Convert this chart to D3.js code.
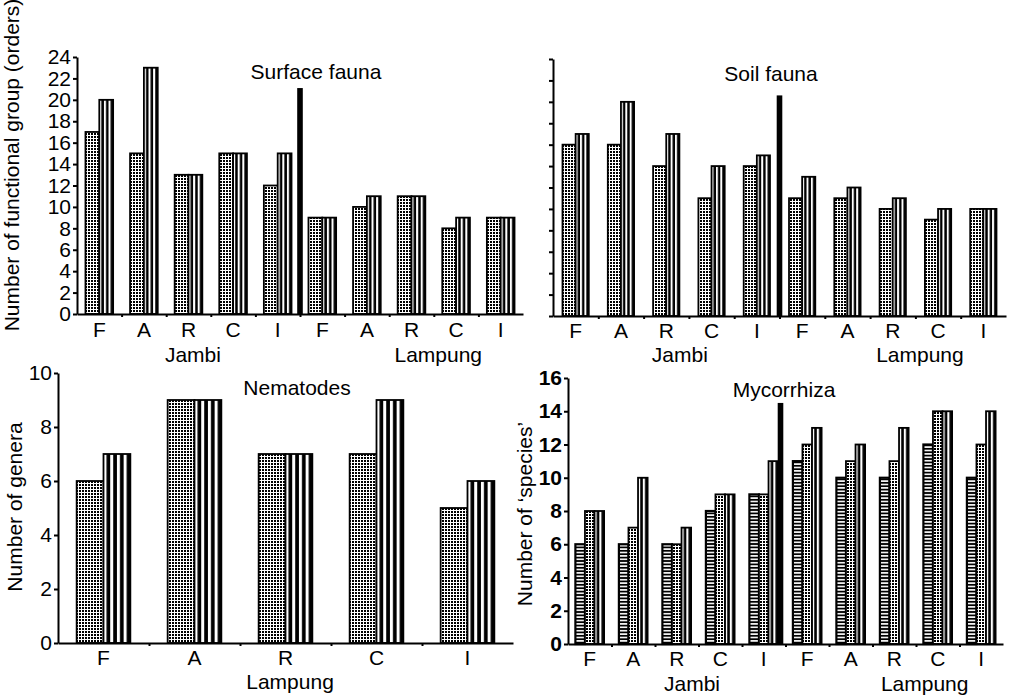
<!DOCTYPE html>
<html>
<head>
<meta charset="utf-8">
<script src="https://cdn.jsdelivr.net/npm/d3@7"></script>
<style>
  body { margin: 0; background: #fff; }
  text { font-family: "Liberation Sans", Arial, Helvetica, sans-serif; fill: #000; }
</style>
</head>
<body>
<script>
// site groups: Jambi F A R C I, Lampung F A R C I
var groups = ["F", "A", "R", "C", "I", "F", "A", "R", "C", "I"];
var nemGroups = ["F", "A", "R", "C", "I"];

var surfaceDotted = [17, 15, 13, 15, 12, 9, 10, 11, 8, 9];
var surfaceStriped = [20, 23, 13, 15, 15, 9, 11, 11, 9, 9];
var surfaceSep = 21.1;

var soilDotted = [16, 16, 14, 11, 14, 11, 11, 10, 9, 10];
var soilStriped = [17, 20, 17, 14, 15, 13, 12, 11, 10, 10];
var soilSep = 20.6;

var nemDotted = [6, 9, 7, 7, 5];
var nemStriped = [7, 9, 7, 9, 6];

var mycHoriz = [6, 6, 6, 8, 9, 11, 10, 10, 12, 10];
var mycDotted = [8, 7, 6, 9, 9, 12, 11, 11, 14, 12];
var mycStriped = [8, 10, 7, 9, 11, 13, 12, 13, 14, 14];
var mycSep = 14.5;

var FS = "21px";

var svg = d3.select("body").append("svg")
    .attr("width", 1010)
    .attr("height", 696);

// fill patterns
var defs = svg.append("defs");

var dots = defs.append("pattern")
    .attr("id", "dots")
    .attr("patternUnits", "userSpaceOnUse")
    .attr("width", 3).attr("height", 3);
dots.append("rect").attr("width", 3).attr("height", 3).attr("fill", "#fff");
dots.append("rect").attr("x", 1).attr("y", 1)
    .attr("width", 2).attr("height", 2).attr("fill", "#000");

var hstripes = defs.append("pattern")
    .attr("id", "hstripes")
    .attr("patternUnits", "userSpaceOnUse")
    .attr("width", 10).attr("height", 3.4);
hstripes.append("rect").attr("width", 10).attr("height", 3.4).attr("fill", "#000");
hstripes.append("rect").attr("y", 0.9).attr("width", 10).attr("height", 1.6).attr("fill", "#fff");

[2, 3, 4].forEach(function(n) {
    var p = defs.append("pattern")
        .attr("id", "vstripes" + n)
        .attr("patternUnits", "objectBoundingBox")
        .attr("patternContentUnits", "objectBoundingBox")
        .attr("width", 1 / n).attr("height", 1);
    p.append("rect").attr("width", 1 / n).attr("height", 1).attr("fill", "#fff");
    p.append("rect").attr("x", 0.45 / n).attr("width", 0.55 / n).attr("height", 1).attr("fill", "#000");
});

function panel(o) {
    var g = svg.append("g");
    var x = d3.scaleBand().domain(d3.range(o.cats.length)).range(o.xr);
    var y = d3.scaleLinear().domain([0, o.ymax]).range(o.yr);
    var bw = x.bandwidth(), gw = bw * o.fill;
    var inner = d3.scaleBand().domain(d3.range(o.series.length))
        .range([(bw - gw) / 2, (bw + gw) / 2]);

    // bars
    o.series.forEach(function(s, si) {
        g.selectAll(null)
            .data(s.values)
            .enter().append("rect")
            .attr("x", function(d, i) { return x(i) + inner(si); })
            .attr("y", function(d) { return y(d); })
            .attr("width", inner.bandwidth())
            .attr("height", function(d) { return y(0) - y(d); })
            .attr("fill", s.fill)
            .attr("stroke", "#000")
            .attr("stroke-width", s.sw || 1.8);
    });

    // thick black bar between Jambi and Lampung
    if (o.sep) {
        var cx = x(5) + (o.sepShift || 0);
        g.append("rect")
            .attr("x", cx - 2.8)
            .attr("y", y(o.sep))
            .attr("width", 5.6)
            .attr("height", y(0) - y(o.sep))
            .attr("fill", "#000");
    }

    // y axis
    var ya = d3.axisLeft(y)
        .tickValues(d3.range(0, o.ymax + 0.01, o.ystep))
        .tickSize(4).tickSizeOuter(0).tickPadding(2);
    if (o.noLabels) ya.tickFormat("");
    var yg = g.append("g")
        .attr("transform", "translate(" + o.xr[0] + ",0)")
        .call(ya);
    yg.selectAll("path, line").attr("stroke-width", 2);
    yg.selectAll("text").style("font-size", FS)
        .style("font-weight", o.boldTicks ? "bold" : "normal");

    // x axis: line + small ticks between groups
    var edge = d3.scaleLinear().domain([0, o.cats.length]).range(o.xr);
    var xb = g.append("g")
        .attr("transform", "translate(0," + o.yr[0] + ")")
        .call(d3.axisBottom(edge)
            .tickValues(d3.range(1, o.cats.length))
            .tickFormat("")
            .tickSize(3).tickSizeOuter(0));
    xb.selectAll("path, line").attr("stroke-width", 2);

    var xl = g.append("g")
        .attr("transform", "translate(0," + o.yr[0] + ")")
        .call(d3.axisBottom(x).tickSize(0).tickPadding(o.xpad || 8)
            .tickFormat(function(i) { return o.cats[i]; }));
    xl.select(".domain").remove();
    xl.selectAll("text").style("font-size", FS);

    // region labels
    o.regions.forEach(function(r) {
        g.append("text")
            .attr("x", o.xr[0] + r[1] * bw)
            .attr("y", o.regionY)
            .attr("text-anchor", "middle")
            .style("font-size", FS)
            .text(r[0]);
    });

    // title
    g.append("text")
        .attr("x", o.title[1]).attr("y", o.title[2])
        .attr("text-anchor", "middle")
        .style("font-size", FS)
        .text(o.title[0]);

    // y title
    if (o.ytitle) {
        g.append("text")
            .attr("transform", "translate(" + o.ytitle[1] + "," + o.ytitle[2] + ") rotate(-90)")
            .attr("text-anchor", "middle")
            .style("font-size", FS)
            .text(o.ytitle[0]);
    }
}

panel({
    cats: groups, xr: [77, 523], yr: [314, 57], ymax: 24, ystep: 2, fill: 0.62,
    series: [
        { values: surfaceDotted, fill: "url(#dots)" },
        { values: surfaceStriped, fill: "url(#vstripes3)" }
    ],
    sep: surfaceSep,
    regions: [["Jambi", 2.6], ["Lampung", 8.1]], regionY: 362,
    title: ["Surface fauna", 316, 79],
    ytitle: ["Number of functional group (orders)", 19, 165]
});

panel({
    cats: groups, xr: [553, 1006], yr: [316, 59], ymax: 24, ystep: 2, fill: 0.58,
    noLabels: true, xpad: 7,
    series: [
        { values: soilDotted, fill: "url(#dots)" },
        { values: soilStriped, fill: "url(#vstripes3)" }
    ],
    sep: soilSep,
    regions: [["Jambi", 2.8], ["Lampung", 8.1]], regionY: 362,
    title: ["Soil fauna", 771, 81]
});

panel({
    cats: nemGroups, xr: [58, 513], yr: [643, 373], ymax: 10, ystep: 2, fill: 0.59,
    xpad: 7,
    series: [
        { values: nemDotted, fill: "url(#dots)" },
        { values: nemStriped, fill: "url(#vstripes4)" }
    ],
    regions: [["Lampung", 2.55]], regionY: 689,
    title: ["Nematodes", 297, 395],
    ytitle: ["Number of genera", 22, 507]
});

panel({
    cats: groups, xr: [568, 1003], yr: [644, 378], ymax: 16, ystep: 2, fill: 0.66,
    boldTicks: true, xpad: 7,
    series: [
        { values: mycHoriz, fill: "url(#hstripes)", sw: 2.2 },
        { values: mycDotted, fill: "url(#dots)" },
        { values: mycStriped, fill: "url(#vstripes2)" }
    ],
    sep: mycSep, sepShift: -5,
    regions: [["Jambi", 2.85], ["Lampung", 8.2]], regionY: 691,
    title: ["Mycorrhiza", 784, 397],
    ytitle: ["Number of \u2018species\u2019", 532, 514]
});
</script>
</body>
</html>
